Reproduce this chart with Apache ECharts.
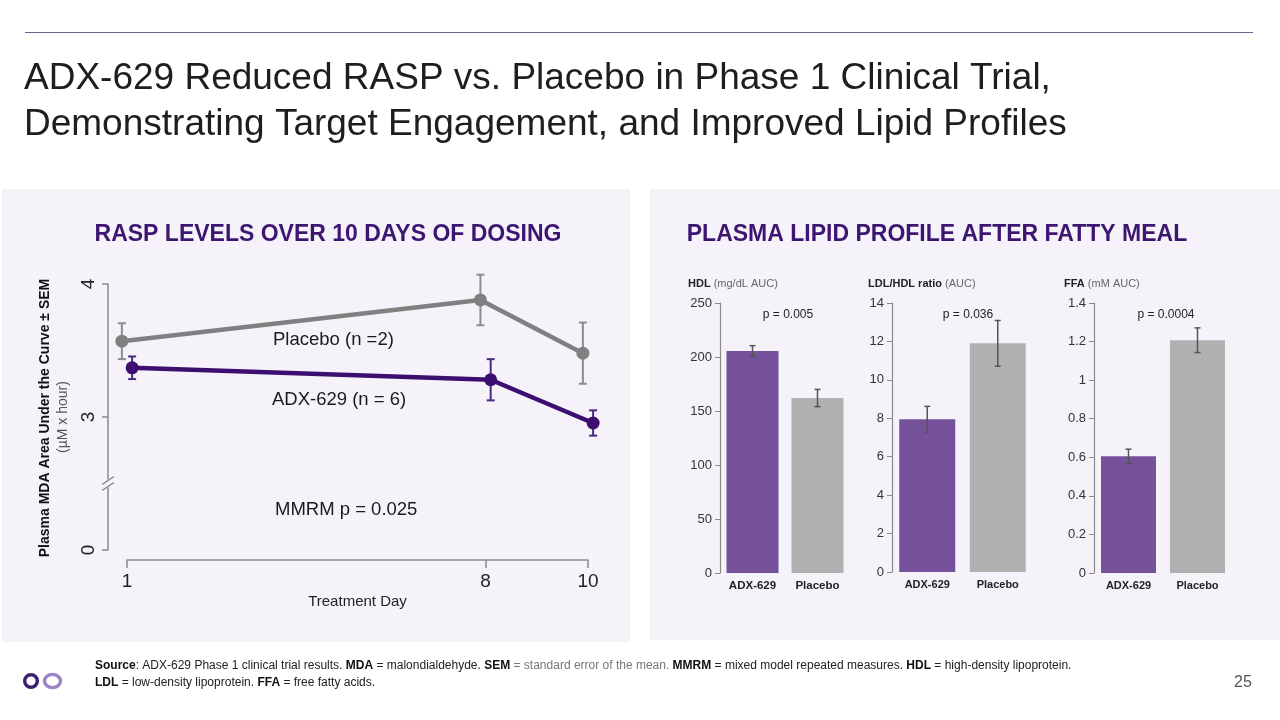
<!DOCTYPE html>
<html>
<head>
<meta charset="utf-8">
<script src="https://cdn.jsdelivr.net/npm/echarts@6/dist/echarts.min.js"></script>
<style>
html,body{margin:0;padding:0;background:#fff;}
#chart{width:1280px;height:720px;}
</style>
</head>
<body>
<div id="chart"></div>
<script>
// ---------- data ----------
const days = [1, 8, 10];
const dayTicks = [1, 8, 10];
const placeboMean = [3.57, 3.88, 3.48];
const placeboSem = [0.135, 0.19, 0.23];
const adxMean = [3.37, 3.28, 2.955];
const adxSem = [0.085, 0.155, 0.095];

const groups = ['ADX-629', 'Placebo'];
const hdlMean = [205.5, 162];
const hdlSem = [5, 8];
const ldlHdlMean = [7.95, 11.9];
const ldlHdlSem = [0.67, 1.19];
const ffaMean = [0.605, 1.207];
const ffaSem = [0.037, 0.064];

// ---------- styles ----------
const FONT = '"Liberation Sans", Arial, Helvetica, sans-serif';
const NARROW = '"Liberation Sans Narrow", "Arial Narrow", "Liberation Sans", Arial, sans-serif';
const PANEL_BG = '#f5f3f9';
const PLACEBO_LINE = '#808080';
const ADX_LINE = '#3b0e70';
const BAR_COLORS = ['#75509b', '#b0b0b0'];
const AXIS_COLOR = '#8a8a8a';
const placeboDx = -0.1, adxDx = 0.1;

function errRender(capHalf, color, lw) {
  return function (params, api) {
    const x = api.value(0), lo = api.value(1), hi = api.value(2);
    const a = api.coord([x, lo]);
    const b = api.coord([x, hi]);
    const st = { stroke: color, lineWidth: lw };
    return {
      type: 'group',
      children: [
        { type: 'line', shape: { x1: a[0], y1: a[1], x2: b[0], y2: b[1] }, style: st },
        { type: 'line', shape: { x1: a[0] - capHalf, y1: a[1], x2: a[0] + capHalf, y2: a[1] }, style: st },
        { type: 'line', shape: { x1: b[0] - capHalf, y1: b[1], x2: b[0] + capHalf, y2: b[1] }, style: st }
      ]
    };
  };
}

const chart = echarts.init(document.getElementById('chart'), null, { renderer: 'canvas' });

function barYAxis(gridIndex, max, interval) {
  return {
    gridIndex, type: 'value', min: 0, max, interval,
    axisLine: { show: true, lineStyle: { color: AXIS_COLOR, width: 1.2 } },
    axisTick: { show: true, length: 5, lineStyle: { color: AXIS_COLOR } },
    axisLabel: { fontSize: 13, color: '#333', margin: 8, fontFamily: FONT },
    splitLine: { show: false }
  };
}
function barXAxis(gridIndex, narrow) {
  return {
    gridIndex, type: 'category', data: groups,
    axisLine: { show: false }, axisTick: { show: false },
    axisLabel: { fontSize: narrow ? 11 : 11.5, fontWeight: 'bold', color: '#222', margin: 7, fontFamily: narrow ? NARROW : FONT }
  };
}
function barSeries(idx, means, width) {
  return {
    type: 'bar', xAxisIndex: idx, yAxisIndex: idx, barWidth: width, silent: true,
    data: means.map((v, i) => ({ value: v, itemStyle: { color: BAR_COLORS[i] } })),
    z: 2
  };
}
function barErr(idx, means, sems) {
  return {
    type: 'custom', xAxisIndex: idx, yAxisIndex: idx, silent: true, z: 3,
    renderItem: errRender(3, '#555', 1.5),
    data: means.map((v, i) => [i, v - sems[i], v + sems[i]])
  };
}

const option = {
  backgroundColor: '#ffffff',
  animation: false,
  textStyle: { fontFamily: FONT },
  grid: [
    { left: 127, top: 284, width: 461, height: 266 },
    { left: 720, top: 303, width: 130, height: 270 },
    { left: 892, top: 303, width: 141, height: 269 },
    { left: 1094, top: 303, width: 138, height: 270 }
  ],
  xAxis: [
    {
      gridIndex: 0, type: 'value', min: 1, max: 10, offset: 10,
      axisLine: { show: true, lineStyle: { color: AXIS_COLOR, width: 1.5 } },
      axisTick: { show: true, customValues: dayTicks, length: 8, lineStyle: { color: AXIS_COLOR, width: 1.5 } },
      axisLabel: { customValues: dayTicks, fontSize: 19, color: '#222', margin: 12 },
      splitLine: { show: false },
      name: 'Treatment Day', nameLocation: 'middle', nameGap: 34,
      nameTextStyle: { fontSize: 15, color: '#222' }
    },
    barXAxis(1, false), barXAxis(2, true), barXAxis(3, true)
  ],
  yAxis: [
    {
      gridIndex: 0, type: 'value', min: 2, max: 4, interval: 1, offset: 19,
      axisLine: { show: true, lineStyle: { color: AXIS_COLOR, width: 1.5 } },
      axisTick: { show: true, length: 6, lineStyle: { color: AXIS_COLOR, width: 1.5 } },
      axisLabel: { rotate: 90, fontSize: 19, color: '#222', margin: 10,
        formatter: v => (v === 2 ? '0' : String(v)) },
      splitLine: { show: false }
    },
    barYAxis(1, 250, 50), barYAxis(2, 14, 2), barYAxis(3, 1.4, 0.2)
  ],
  series: [
    {
      type: 'custom', xAxisIndex: 0, yAxisIndex: 0, silent: true, z: 2, clip: false,
      renderItem: errRender(4, '#8c8c8c', 2),
      data: days.map((d, i) => [d + placeboDx, placeboMean[i] - placeboSem[i], placeboMean[i] + placeboSem[i]])
    },
    {
      type: 'custom', xAxisIndex: 0, yAxisIndex: 0, silent: true, z: 2, clip: false,
      renderItem: errRender(4, '#4a2a80', 2),
      data: days.map((d, i) => [d + adxDx, adxMean[i] - adxSem[i], adxMean[i] + adxSem[i]])
    },
    {
      name: 'Placebo', type: 'line', xAxisIndex: 0, yAxisIndex: 0, clip: false, z: 3,
      symbol: 'circle', symbolSize: 13,
      lineStyle: { color: PLACEBO_LINE, width: 4.5 }, itemStyle: { color: PLACEBO_LINE },
      data: days.map((d, i) => [d + placeboDx, placeboMean[i]])
    },
    {
      name: 'ADX-629', type: 'line', xAxisIndex: 0, yAxisIndex: 0, clip: false, z: 3,
      symbol: 'circle', symbolSize: 13,
      lineStyle: { color: ADX_LINE, width: 4.5 }, itemStyle: { color: ADX_LINE },
      data: days.map((d, i) => [d + adxDx, adxMean[i]])
    },
    barSeries(1, hdlMean, 52), barErr(1, hdlMean, hdlSem),
    barSeries(2, ldlHdlMean, 56), barErr(2, ldlHdlMean, ldlHdlSem),
    barSeries(3, ffaMean, 55), barErr(3, ffaMean, ffaSem)
  ]
};
chart.setOption(option);

// break mark position on the left y axis (between 0 and 3)
const brk = chart.convertToPixel({ yAxisIndex: 0 }, 2.5);
const axX = 108;

const T = (x, y, text, style, extra) => Object.assign({ type: 'text', x, y, style: Object.assign({ text, fontFamily: FONT }, style) }, extra || {});

chart.setOption({
  graphic: [
    { type: 'rect', z: -10, shape: { x: 2, y: 189, width: 628, height: 453 }, style: { fill: PANEL_BG } },
    { type: 'rect', z: -10, shape: { x: 650, y: 189, width: 630, height: 451 }, style: { fill: PANEL_BG } },
    { type: 'line', shape: { x1: 25, y1: 32.5, x2: 1253, y2: 32.5 }, style: { stroke: '#6f6190', lineWidth: 1 } },
    T(24, 79, 'ADX-629 Reduced RASP vs. Placebo in Phase 1 Clinical Trial,', { fontSize: 37, fill: '#1e1e1e', verticalAlign: 'middle' }),
    T(24, 125, 'Demonstrating Target Engagement, and Improved Lipid Profiles', { fontSize: 37, fill: '#1e1e1e', verticalAlign: 'middle' }),
    T(328, 235, 'RASP LEVELS OVER 10 DAYS OF DOSING', { fontSize: 23, fontWeight: 'bold', fill: '#3d1672', align: 'center', verticalAlign: 'middle' }),
    T(937, 235, 'PLASMA LIPID PROFILE AFTER FATTY MEAL', { fontSize: 23, fontWeight: 'bold', fill: '#3d1672', align: 'center', verticalAlign: 'middle' }),
    // y axis title
    T(45, 418, 'Plasma MDA Area Under the Curve ± SEM', { fontSize: 14, fontWeight: 'bold', fill: '#111', align: 'center', verticalAlign: 'middle' }, { rotation: Math.PI / 2 }),
    T(63, 417, '(µM x hour)', { fontSize: 14, fill: '#555', align: 'center', verticalAlign: 'middle' }, { rotation: Math.PI / 2 }),
    // axis break
    { type: 'rect', z: 5, shape: { x: axX - 4, y: brk - 4, width: 8, height: 8 }, style: { fill: PANEL_BG } },
    { type: 'line', z: 6, shape: { x1: axX - 6, y1: brk + 1, x2: axX + 6, y2: brk - 7 }, style: { stroke: AXIS_COLOR, lineWidth: 1.5 } },
    { type: 'line', z: 6, shape: { x1: axX - 6, y1: brk + 7, x2: axX + 6, y2: brk - 1 }, style: { stroke: AXIS_COLOR, lineWidth: 1.5 } },
    // annotations
    T(273, 340, 'Placebo (n =2)', { fontSize: 18.5, fill: '#1a1a1a', verticalAlign: 'middle' }),
    T(272, 400, 'ADX-629 (n = 6)', { fontSize: 18.5, fill: '#1a1a1a', verticalAlign: 'middle' }),
    T(275, 510, 'MMRM p = 0.025', { fontSize: 18.5, fill: '#1a1a1a', verticalAlign: 'middle' }),
    // bar subtitles
    T(688, 284, '{b|HDL} (mg/dL AUC)', { fontSize: 11, fill: '#666', verticalAlign: 'middle', rich: { b: { fontWeight: 'bold', fill: '#222', fontSize: 11, fontFamily: FONT } } }),
    T(868, 284, '{b|LDL/HDL ratio} (AUC)', { fontSize: 11, fill: '#666', verticalAlign: 'middle', rich: { b: { fontWeight: 'bold', fill: '#222', fontSize: 11, fontFamily: FONT } } }),
    T(1064, 284, '{b|FFA} (mM AUC)', { fontSize: 11, fill: '#666', verticalAlign: 'middle', rich: { b: { fontWeight: 'bold', fill: '#222', fontSize: 11, fontFamily: FONT } } }),
    T(788, 315, 'p = 0.005', { fontSize: 12, fill: '#222', align: 'center', verticalAlign: 'middle' }),
    T(968, 315, 'p = 0.036', { fontSize: 12, fill: '#222', align: 'center', verticalAlign: 'middle' }),
    T(1166, 315, 'p = 0.0004', { fontSize: 12, fill: '#222', align: 'center', verticalAlign: 'middle' }),
    // footnote
    T(95, 666, '{b|Source}: ADX-629 Phase 1 clinical trial results. {b|MDA} = malondialdehyde. {b|SEM} {g|= standard error of the mean.} {b|MMRM} = mixed model repeated measures. {b|HDL} = high-density lipoprotein.',
      { fontSize: 12, fill: '#222', verticalAlign: 'middle', rich: { b: { fontWeight: 'bold', fontSize: 12, fill: '#111', fontFamily: FONT }, g: { fill: '#777', fontSize: 12, fontFamily: FONT } } }),
    T(95, 683, '{b|LDL} = low-density lipoprotein. {b|FFA} = free fatty acids.',
      { fontSize: 12, fill: '#222', verticalAlign: 'middle', rich: { b: { fontWeight: 'bold', fontSize: 12, fill: '#111', fontFamily: FONT } } }),
    T(1243, 683, '25', { fontSize: 16, fill: '#555', align: 'center', verticalAlign: 'middle' }),
    // logo
    { type: 'circle', shape: { cx: 31, cy: 681, r: 6.3 }, style: { fill: 'none', stroke: '#3d1f6e', lineWidth: 3.4 } },
    { type: 'ellipse', shape: { cx: 52.5, cy: 681, rx: 8, ry: 6.6 }, style: { fill: 'none', stroke: '#9d84c4', lineWidth: 3.4 } }
  ]
});
</script>
</body>
</html>
